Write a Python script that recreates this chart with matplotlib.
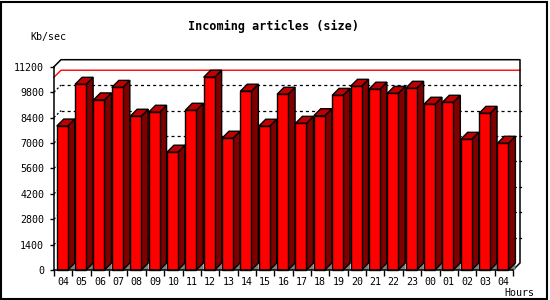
import matplotlib
matplotlib.use("Agg")
import matplotlib.pyplot as plt
from matplotlib.patches import Polygon, Rectangle

hours = ['04', '05', '06', '07', '08', '09', '10', '11', '12', '13', '14', '15',
         '16', '17', '18', '19', '20', '21', '22', '23', '00', '01', '02', '03', '04']
values = [7930, 10230, 9370, 10060, 8470, 8690, 6490, 8800, 10620, 7260, 9850, 7920,
          9680, 8080, 8500, 9620, 10120, 9960, 9730, 10010, 9130, 9240, 7200, 8630, 6980]
yticks = [0, 1400, 2800, 4200, 5600, 7000, 8400, 9800, 11200]

plt.rcParams['lines.scale_dashes'] = False
mono = 'DejaVu Sans Mono'

fig = plt.figure(figsize=(5.5, 3), dpi=100)
W, H = 550, 300
# front plane of the box, in pixels
x0, x1, y0, y1 = 54, 513, 270, 66.7
ax = fig.add_axes([x0 / W, (H - y0) / H, (x1 - x0) / W, (y0 - y1) / H])
n = len(values)
ymax = yticks[-1]
ax.set_xlim(0, n)
ax.set_ylim(0, ymax)

# 3d depth: 7 px right, 7 px up, in data units
depth = 7
dx = depth * n / (x1 - x0)
dy = depth * ymax / (y0 - y1)

# back wall grid (dashed) and left wall diagonals
for v in yticks[1:-1]:
    ax.plot([dx, n + dx], [v + dy, v + dy], color='black', lw=0.9,
            dashes=(2.2, 2.2), clip_on=False, zorder=1)
    ax.plot([0, dx], [v, v + dy], color='black', lw=0.9,
            dashes=(1.5, 1.5), clip_on=False, zorder=1)
    # little ticks on the right wall
    ax.plot([n + dx, n + dx + 0.08], [v + dy, v + dy], color='black', lw=0.9,
            clip_on=False, zorder=1)

# red line at the maximum
top = max(values)
ax.plot([0, dx, n + dx], [top, top + dy, top + dy], color='red', lw=1,
        clip_on=False, zorder=1.5)

# box edges
ax.plot([0, dx, n + dx, n + dx, n], [ymax, ymax + dy, ymax + dy, dy, 0],
        color='black', lw=1.1, clip_on=False, zorder=1.6)

bw = 0.6
off = 0.15
for i, v in enumerate(values):
    xl = i + off
    xr = xl + bw
    ax.add_patch(Polygon([(xr, 0), (xr + dx, dy), (xr + dx, 0)], closed=True,
                         facecolor='#808080', edgecolor='none', lw=0,
                         clip_on=False, zorder=2))
    ax.add_patch(Polygon([(xr, 0), (xr + dx, dy), (xr + dx, v + dy), (xr, v)],
                         closed=True, facecolor='#800000', edgecolor='black',
                         lw=1, clip_on=False, zorder=3))
    ax.add_patch(Polygon([(xl, v), (xl + dx, v + dy), (xr + dx, v + dy), (xr, v)],
                         closed=True, facecolor='#c00000', edgecolor='black',
                         lw=1, clip_on=False, zorder=3))
ax.bar([i + off for i in range(n)], values, width=bw, align='edge',
       color='#ff0000', edgecolor='black', lw=1, zorder=4, clip_on=False)

ax.patch.set_visible(False)
for s in ['top', 'right']:
    ax.spines[s].set_visible(False)
for s in ['left', 'bottom']:
    ax.spines[s].set_linewidth(1.1)
    ax.spines[s].set_zorder(5)

ax.set_yticks(yticks)
ax.set_yticklabels([str(t) for t in yticks], fontfamily=mono, fontsize=7.2)
ax.tick_params(axis='y', direction='out', length=3, width=1, pad=4)
ax.set_xticks(range(n + 1))
ax.set_xticklabels([])
ax.set_xticks([i + 0.5 for i in range(n)], minor=True)
ax.set_xticklabels(hours, minor=True, fontfamily=mono, fontsize=7.2)
ax.tick_params(axis='x', which='major', direction='out', length=4, width=1)
ax.tick_params(axis='x', which='minor', length=0, pad=5)

fig.text(274 / W, 1 - 26.7 / H, 'Incoming articles (size)', ha='center',
         va='center', fontfamily=mono, fontweight='bold', fontsize=8.5)
fig.text(30 / W, 1 - 36.7 / H, 'Kb/sec', ha='left', va='center',
         fontfamily=mono, fontsize=7.2)
fig.text(504 / W, 1 - 292.7 / H, 'Hours', ha='left', va='center',
         fontfamily=mono, fontsize=7.2)

# outer frame
fig.patches.append(Rectangle((1 / W, 1 / H), 546 / W, 297 / H, transform=fig.transFigure,
                             fill=False, edgecolor='black', lw=1.5))

fig.savefig('out.png', dpi=100)
